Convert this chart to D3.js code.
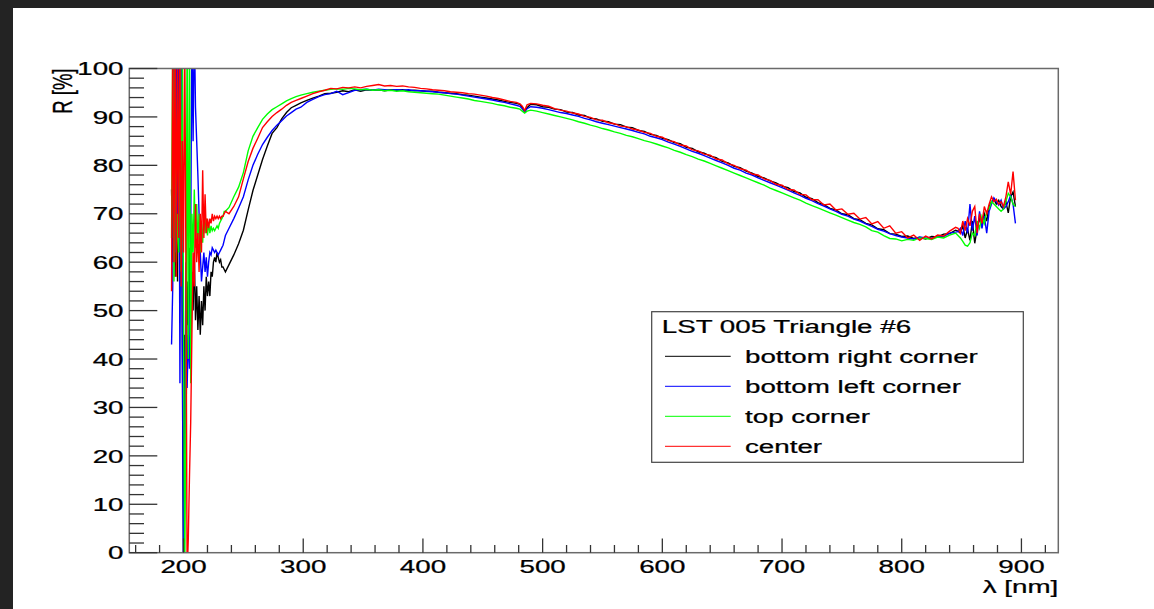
<!DOCTYPE html>
<html><head><meta charset="utf-8">
<script src="https://cdn.jsdelivr.net/npm/d3@7"></script>
<style>html,body{margin:0;padding:0;background:#fff;}svg{display:block;}text{font-family:"Liberation Sans",Arial,Helvetica,sans-serif;}</style>
</head><body>
<script>
// ---------------- data ----------------
const wavelengths = [
190,191,192,193,194,195,196,197,198,199,200,201,202,203,204,205,206,207,208,209,
210,211,212,213,214,215,216,217,218,219,220,221,222,223,224,225,226,227,228,229,
230,231,232,233,234,235,
238,242,246,250,254,258,262,266,270,274,278,282,286,290,294,298,
303,308,313,318,323,328,333,338,343,348,353,358,363,368,373,378,383,388,393,398,
403,408,413,418,423,428,433,438,443,448,453,458,463,468,473,478,
481,483,485,487,
490,495,500,505,510,515,520,525,530,535,540,545,550,555,560,565,570,575,580,585,
590,595,600,605,610,615,620,625,630,635,640,645,650,655,660,665,670,675,680,685,
690,695,700,705,710,715,720,725,730,735,740,745,750,755,760,765,770,775,780,785,
790,795,800,805,810,815,820,825,830,835,840,845,
847,849,851,853,855,857,859,861,863,865,867,869,871,873,875,877,879,881,883,885,
887,889,891,893,895];

const bottomRight = [
75,60,108,57,80,56,110,62,105,40,-5,45,20,56,47,63,43,58,50,62,
48,55,46,53,45,52,47,55,50,57,53,56,53,58,57,60,61,60,62,61,
60,60.5,59,59,58.5,58,
59.5,61.5,63.8,66.6,70.8,74.8,78.0,81.2,84.0,86.6,87.8,89.6,90.9,91.9,92.4,92.9,
93.4,93.9,94.3,94.8,94.9,95.1,95.4,95.2,95.6,95.3,95.6,95.5,95.6,95.4,95.6,95.5,95.6,95.4,95.5,95.4,
95.3,95.3,95.1,95.0,94.9,94.8,94.6,94.5,94.3,94.1,93.9,93.7,93.5,93.2,93.0,92.8,
92.6,92.0,91.1,91.9,
92.6,92.5,92.1,92.0,91.6,91.5,91.0,90.9,90.4,90.3,89.7,89.6,89.1,89.0,88.5,88.4,87.9,87.8,87.2,87.0,
86.4,86.2,85.6,85.3,84.7,84.5,83.7,83.5,82.8,82.5,81.9,81.6,80.8,80.5,79.8,79.5,78.8,78.4,77.7,77.4,
76.8,76.4,75.7,75.4,74.6,74.3,73.4,73.1,72.3,71.9,71.1,70.8,70.0,69.8,69.0,68.8,68.0,67.7,66.9,66.7,
65.9,65.8,65.3,65.4,64.9,65.1,64.8,65.3,65.2,65.8,65.9,66.6,
66.4,66.0,67.5,65.0,66.8,64.5,68.5,63.9,67.0,69.0,67.5,70.0,68.5,71.5,72.5,73.0,72.0,72.8,71.5,71.0,
72.5,70.2,73.5,74.5,71.5];

const bottomLeft = [
43,55,108,62,105,70,110,35,108,50,-5,12,60,34,45,38,65,108,85,110,
92,85,78,70,62,56,59,62,58,61,57,60,62,61.5,63,62.5,62,62.5,62,61.5,
62,62.5,63,63.5,64.5,65.5,
67.0,69.0,71.2,73.5,77.0,80.0,82.3,84.3,85.8,87.2,88.3,89.2,90.2,90.9,91.6,92.0,
93.0,93.6,94.2,94.6,94.8,95.3,94.6,95.0,95.5,95.6,95.7,95.5,95.7,95.6,95.5,95.6,95.5,95.6,95.4,95.4,
95.3,95.2,95.1,95.0,94.8,94.7,94.5,94.3,94.1,93.9,93.7,93.5,93.2,93.0,92.7,92.4,
92.2,91.7,91.0,91.7,
92.1,92.0,91.8,91.5,91.2,90.9,90.7,90.4,90.1,89.7,89.4,89.0,88.7,88.4,88.1,87.8,87.5,87.2,86.8,86.5,
86.0,85.7,85.3,84.8,84.4,83.9,83.4,82.9,82.5,82.0,81.5,81.0,80.5,80.0,79.4,79.0,78.4,78.0,77.4,76.9,
76.4,75.9,75.4,74.9,74.3,73.8,73.2,72.7,72.1,71.6,71.0,70.5,69.9,69.5,68.9,68.5,67.9,67.4,66.8,66.4,
65.9,65.5,65.2,65.0,64.8,65.2,65.0,64.9,65.4,65.3,66.0,66.2,
66.3,67.0,65.5,68.5,66.0,72.0,66.5,69.5,65.5,70.5,67.0,69.5,66.0,70.5,72.0,73.3,72.5,71.8,72.8,71.0,
71.5,72.5,73.8,72.0,68.0];

const topCorner = [
65,108,56,106,60,70,62,108,58,104,50,-5,30,110,40,108,35,70,62,75,
63,72,64,70,62,68,64,70,66,69,65.5,68,66,67.5,66.5,67,66.5,67,67.5,67,
68,68.5,69,69.5,70.5,70.5,
71.3,73.5,75.5,78.5,83.0,86.0,87.8,89.5,90.6,91.5,92.1,92.7,93.3,93.8,94.2,94.5,
94.8,95.1,95.3,95.5,95.7,95.8,95.7,95.9,95.8,95.6,95.7,95.5,95.6,95.4,95.5,95.3,95.4,95.2,95.1,95.0,
94.9,94.8,94.7,94.5,94.3,94.1,93.9,93.7,93.4,93.2,93.0,92.8,92.5,92.3,92.0,91.8,
91.6,91.2,90.8,91.2,
91.4,91.2,90.9,90.6,90.3,90.0,89.7,89.4,89.0,88.7,88.3,88.0,87.6,87.3,86.9,86.6,86.2,85.9,85.5,85.1,
84.8,84.4,84.0,83.6,83.1,82.7,82.2,81.8,81.3,80.9,80.4,79.9,79.4,78.9,78.4,77.9,77.4,76.9,76.4,75.9,
75.3,74.8,74.3,73.8,73.3,72.8,72.2,71.7,71.2,70.7,70.2,69.7,69.2,68.7,68.2,67.8,67.3,66.5,66.2,65.5,
64.9,64.8,64.4,64.7,64.5,65.0,64.9,64.7,65.2,65.0,65.6,66.0,
65.5,65.0,64.3,63.5,63.3,64.0,66.0,65.5,68.5,67.0,69.5,68.0,70.5,71.0,72.5,72.0,71.5,71.0,70.5,71.0,
72.5,74.2,73.5,72.0,71.5];

const center = [
54,108,60,110,57,105,65,108,55,85,62,108,60,-5,3,16,27,45,62,55,
72,60,66,58,70,62,79,65,74,66,69,67,69,68,70,68.5,69.5,69,69.5,69,
69.5,69,69.5,69.5,70,70.5,
70.0,71.5,73.5,77.2,80.8,83.5,85.6,87.8,89.0,90.1,90.9,91.6,92.4,93.0,93.4,93.8,
94.3,94.8,95.2,95.5,95.9,95.8,96.1,96.0,96.2,96.0,96.3,96.5,96.7,96.4,96.5,96.3,96.4,96.2,96.1,95.9,
95.8,95.6,95.5,95.4,95.2,95.1,95.0,94.8,94.7,94.5,94.3,94.0,93.8,93.5,93.2,93.0,
92.7,92.2,91.3,92.5,
92.8,92.7,92.4,92.2,91.7,91.4,91.2,90.8,90.6,90.1,89.9,89.4,89.3,88.8,88.6,88.1,88.0,87.5,87.3,86.8,
86.6,86.0,85.8,85.1,84.9,84.2,84.0,83.2,83.0,82.3,82.1,81.3,81.1,80.3,80.0,79.3,79.0,78.2,78.0,77.2,
76.9,76.1,75.9,75.0,74.9,74.0,73.9,72.9,72.9,71.8,72.0,70.8,71.0,69.9,70.1,68.9,69.2,67.9,68.4,67.0,
67.5,66.0,66.3,65.0,65.6,64.5,65.4,64.8,65.6,65.4,66.4,67.2,
67.0,66.0,68.5,66.5,69.0,67.5,70.5,71.5,66.0,70.0,68.0,71.5,70.0,72.0,73.5,72.5,73.0,72.0,72.5,71.5,
73.5,76.6,74.0,78.7,72.8];

const seriesNames = ["bottom right corner", "bottom left corner", "top corner", "center"];
const seriesValues = [bottomRight, bottomLeft, topCorner, center];
const seriesColors = ["#000000", "#0000ff", "#00ff00", "#ff0000"];
const legendTitle = "LST 005 Triangle #6";
const xMajorTicks = [200, 300, 400, 500, 600, 700, 800, 900];
const yMajorTicks = [0, 10, 20, 30, 40, 50, 60, 70, 80, 90, 100];
const xTitle = "\u03bb [nm]";
const yTitle = "R [%]";

// ---------------- layout ----------------
const W = 1154, H = 609;
const L = 129.3, R = 1058.3, T = 68.5, B = 552.7;
const FS = 18.5, SX = 1.5;

const x = d3.scaleLinear().domain([154.7, 930.8]).range([L, R]);
const y = d3.scaleLinear().domain([0, 100]).range([B, T]);

const svg = d3.select("body").append("svg").attr("width", W).attr("height", H);
svg.append("rect").attr("width", W).attr("height", H).attr("fill", "#232323");
svg.append("rect").attr("x", 13).attr("y", 8).attr("width", W - 13).attr("height", H - 8).attr("fill", "#fff");

function stext(g, px, py, str, anchor, extra) {
  return g.append("text")
    .attr("transform", `translate(${px},${py}) scale(${SX},1)` + (extra || ""))
    .attr("text-anchor", anchor)
    .attr("font-size", FS)
    .attr("fill", "#000")
    .attr("stroke", "#000").attr("stroke-width", 0.25)
    .text(str);
}

// clip
svg.append("clipPath").attr("id", "frameClip").append("rect")
  .attr("x", L).attr("y", T).attr("width", R - L).attr("height", B - T);

// data lines
const line = d3.line().x((d, i) => x(wavelengths[i])).y(d => y(d));
const gLines = svg.append("g").attr("clip-path", "url(#frameClip)");
seriesValues.forEach((vals, k) => {
  gLines.append("path").datum(vals)
    .attr("d", line)
    .attr("fill", "none")
    .attr("stroke", seriesColors[k])
    .attr("stroke-width", 1.4)
    .attr("stroke-linejoin", "miter");
});

// frame
svg.append("rect").attr("x", L).attr("y", T).attr("width", R - L).attr("height", B - T)
  .attr("fill", "none").attr("stroke", "#6a6a6a").attr("stroke-width", 1.5);

// axes ticks (ROOT style, inward)
const tickG = svg.append("g").attr("stroke", "#333").attr("stroke-width", 1.3);
const xMinor = d3.range(160, 931, 20).filter(v => !xMajorTicks.includes(v));
xMinor.forEach(v => tickG.append("line").attr("x1", x(v)).attr("x2", x(v)).attr("y1", B).attr("y2", B - 7.7));
xMajorTicks.forEach(v => tickG.append("line").attr("x1", x(v)).attr("x2", x(v)).attr("y1", B).attr("y2", B - 14.3));
const yMinor = d3.range(0, 101, 2).filter(v => !yMajorTicks.includes(v));
yMinor.forEach(v => tickG.append("line").attr("x1", L).attr("x2", L + 14.7).attr("y1", y(v)).attr("y2", y(v)));
yMajorTicks.forEach(v => tickG.append("line").attr("x1", L).attr("x2", L + 28).attr("y1", y(v)).attr("y2", y(v)));

// tick labels
const labG = svg.append("g");
xMajorTicks.forEach(v => stext(labG, x(v), 573.3, String(v), "middle"));
yMajorTicks.forEach(v => stext(labG, 123.5, y(v) + 6.7, String(v), "end"));

// axis titles
stext(svg, R, 593.3, xTitle, "end");
svg.append("text")
  .attr("transform", `translate(71.7,${T}) scale(${SX},1) rotate(-90)`)
  .attr("text-anchor", "end").attr("font-size", FS).attr("fill", "#000")
  .attr("stroke", "#000").attr("stroke-width", 0.25)
  .text(yTitle);

// legend
const lg = svg.append("g");
lg.append("rect").attr("x", 651.7).attr("y", 311.7).attr("width", 371.6).attr("height", 150.6)
  .attr("fill", "#fff").attr("stroke", "#444").attr("stroke-width", 1.2);
stext(lg, 661.7, 332.5, legendTitle, "start");
seriesNames.forEach((name, k) => {
  const by = 363.3 + k * 30;
  lg.append("line").attr("x1", 665).attr("x2", 730.7).attr("y1", by - 7).attr("y2", by - 7)
    .attr("stroke", seriesColors[k]).attr("stroke-width", 1);
  stext(lg, 745, by, name, "start");
});
</script>
</body></html>
